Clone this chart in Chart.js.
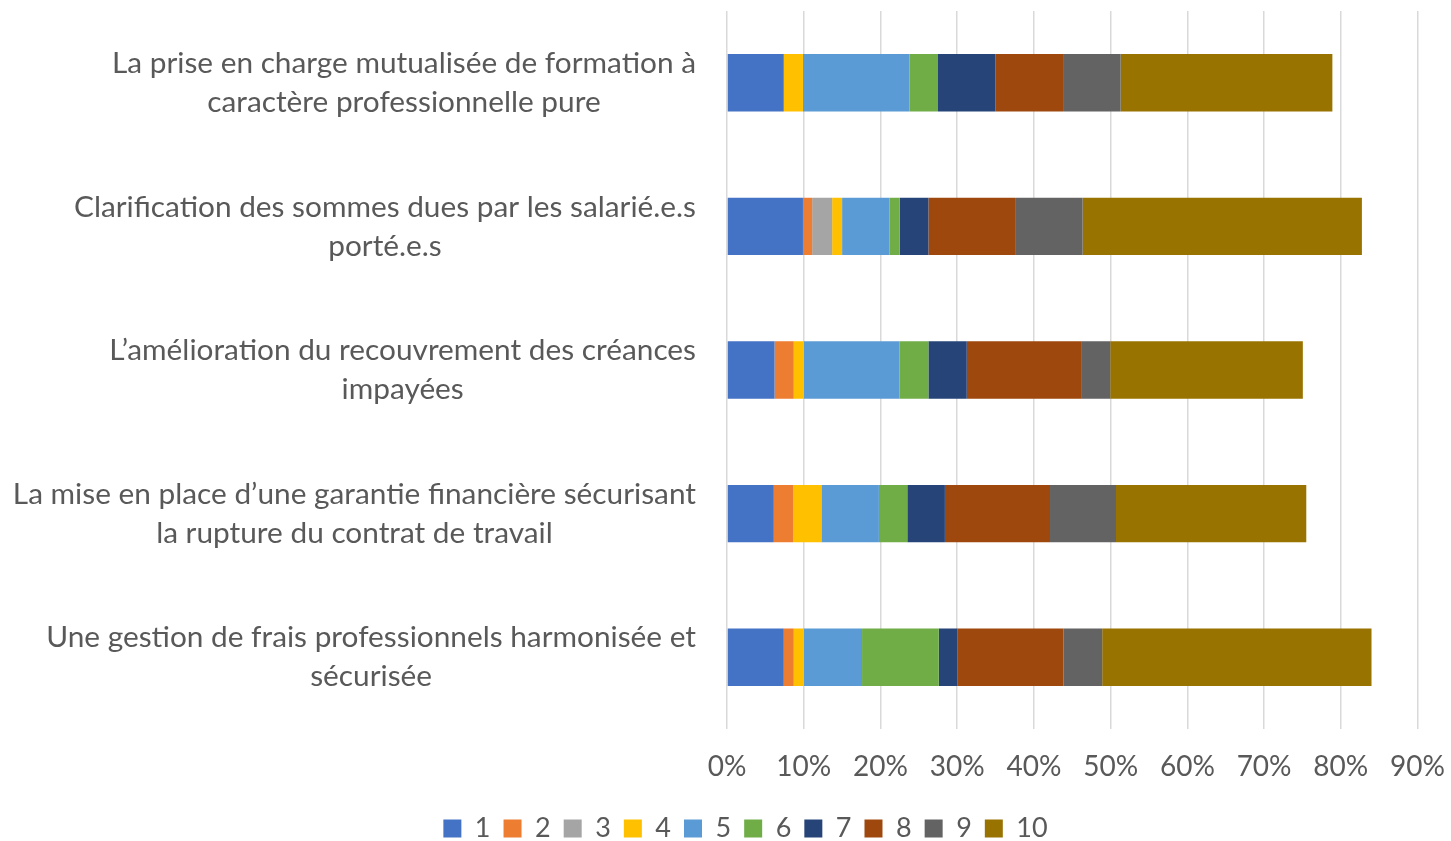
<!DOCTYPE html>
<html><head><meta charset="utf-8">
<script src="https://cdn.jsdelivr.net/npm/chart.js@4"></script>
<style>html,body{margin:0;padding:0;background:#fff}#w{width:1451px;height:841px}</style>
</head><body><div id="w"><canvas id="c" width="1451" height="841"></canvas></div>
<script>
const categories = [
  ["La prise en charge mutualisée de formation à", "caractère professionnelle pure"],
  ["Clarification des sommes dues par les salarié.e.s", "porté.e.s"],
  ["L’amélioration du recouvrement des créances", "impayées"],
  ["La mise en place d’une garantie financière sécurisant", "la rupture du contrat de travail"],
  ["Une gestion de frais professionnels harmonisée et", "sécurisée"]
];
const seriesNames = ["1","2","3","4","5","6","7","8","9","10"];
const s1  = [7.4, 9.9, 6.2, 6.1, 7.4];
const s2  = [0, 1.2, 2.5, 2.5, 1.3];
const s3  = [0, 2.6, 0, 0, 0];
const s4  = [2.5, 1.3, 1.3, 3.7, 1.3];
const s5  = [13.9, 6.2, 12.5, 7.5, 7.6];
const s6  = [3.7, 1.3, 3.75, 3.7, 10.0];
const s7  = [7.5, 3.75, 5.0, 4.9, 2.45];
const s8  = [8.8, 11.3, 15.0, 13.7, 13.8];
const s9  = [7.5, 8.8, 3.7, 8.6, 5.05];
const s10 = [27.6, 36.4, 25.1, 24.8, 35.1];
const xTicks = [0,10,20,30,40,50,60,70,80,90];
const colors = ["#4472C4","#ED7D31","#A5A5A5","#FFC000","#5B9BD5","#70AD47","#264478","#9E480E","#636363","#997300"];
const allSeries = [s1,s2,s3,s4,s5,s6,s7,s8,s9,s10];

const FONT = "Lato";
const labelPlugin = {
  id: 'catLabels',
  afterLayout(chart) {
    if (chart.legend) { chart.legend.left += 20; chart.legend.right += 20; }
  },
  afterDraw(chart) {
    const ctx = chart.ctx, y = chart.scales.y, area = chart.chartArea;
    ctx.save();
    ctx.font = "29.8px " + FONT;
    ctx.fillStyle = "#595959";
    ctx.textAlign = "center";
    ctx.textBaseline = "middle";
    categories.forEach((lines, i) => {
      const cy = y.getPixelForValue(i);
      const maxW = Math.max(...lines.map(l => ctx.measureText(l).width));
      const cx = area.left - 31 - maxW / 2;
      const lh = 39;
      lines.forEach((l, k) => {
        ctx.fillText(l, cx, cy + (k - (lines.length - 1) / 2) * lh);
      });
    });
    ctx.restore();
  }
};

new Chart(document.getElementById('c'), {
  type: 'bar',
  data: {
    labels: categories.map(c => c.join(' ')),
    datasets: allSeries.map((d, i) => ({
      label: seriesNames[i], data: d, backgroundColor: colors[i],
      borderWidth: 0, barPercentage: 0.4, categoryPercentage: 1
    }))
  },
  options: {
    indexAxis: 'y', responsive: false, animation: false,
    layout: { padding: { top: 11, right: 0, left: 0, bottom: -11 } },
    plugins: {
      legend: { position: 'bottom',
        labels: { font: { family: FONT, size: 27 }, color: "#595959", boxWidth: 18, boxHeight: 18, padding: 13 } },
      tooltip: { enabled: false }
    },
    scales: {
      x: { stacked: true, min: 0, max: 90,
        afterBuildTicks: (s) => { s.ticks = xTicks.map(v => ({ value: v })); },
        ticks: { callback: v => v + '%', font: { family: FONT, size: 28 }, color: "#595959", padding: 6, maxRotation: 0 },
        grid: { color: "#D9D9D9", lineWidth: 1.5, drawTicks: true, tickLength: 15, tickColor: 'rgba(0,0,0,0)' },
        border: { display: false },
        afterFit: (s) => { s.height = 73; } },
      y: { stacked: true,
        ticks: { display: false },
        grid: { display: false },
        border: { display: false },
        afterFit: (s) => { s.width = 727; } }
    }
  },
  plugins: [labelPlugin]
});
</script></body></html>
